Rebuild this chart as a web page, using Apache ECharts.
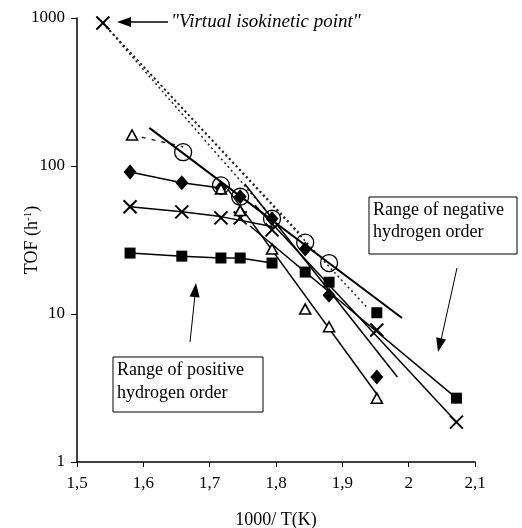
<!DOCTYPE html>
<html>
<head>
<meta charset="utf-8">
<script src="https://cdn.jsdelivr.net/npm/echarts@6/dist/echarts.min.js"></script>
<style>
  html, body { margin: 0; padding: 0; background: #fff; }
  #main { width: 522px; height: 528px; }
</style>
</head>
<body>
<div id="main"></div>
<script>
// data: [1000/T, TOF]
var squareData = [[1.58, 25.8], [1.658, 24.6], [1.717, 23.9], [1.746, 23.9], [1.794, 22.1], [1.844, 19.2], [1.88, 16.4], [1.952, 10.2], [2.072, 2.7]];
var diamondData = [[1.58, 91], [1.658, 77], [1.717, 71], [1.746, 62], [1.794, 44], [1.844, 27.5], [1.88, 13.4], [1.952, 3.75]];
var crossData = [[1.58, 53], [1.658, 49], [1.717, 44.6], [1.746, 44.6], [1.794, 37], [1.952, 7.8], [2.072, 1.86]];
var triangleData = [[1.583, 162], [1.717, 70], [1.746, 50], [1.794, 27.5], [1.844, 10.8], [1.88, 8.2], [1.952, 2.7]];
var circleData = [[1.66, 124], [1.717, 74], [1.746, 62], [1.794, 44], [1.844, 30.4], [1.88, 22.1]];
var isoPoint = [[1.539, 925]];

// low temperature lines
var squareLow = [[1.58, 25.8], [1.658, 24.6], [1.717, 23.9], [1.746, 23.9], [1.794, 22.1]];
var diamondLow = [[1.58, 91], [1.658, 77], [1.717, 71]];
var crossLow = [[1.58, 53], [1.658, 49], [1.717, 45.5], [1.794, 39]];

// high temperature fits
var circleFit = [[1.609, 181], [1.99, 9.4]];
var triangleFit = [[1.728, 69], [1.954, 2.79]];
var diamondFit = [[1.753, 75.5], [1.983, 3.75]];
var squareFit = [[1.761, 39.3], [2.072, 2.7]];
var crossFit = [[1.768, 54.5], [2.072, 1.86]];

// extrapolations to the isokinetic point
var isoLine1 = [[1.539, 925], [1.80, 42]];
var isoLine2 = [[1.539, 925], [1.836, 35]];
var isoLine3 = [[1.539, 925], [1.937, 11.1]];
var triDash = [[1.583, 162], [1.66, 135]];

var crossPath = "path://M0,0L10,10M10,0L0,10";
var font = "Liberation Serif";

function solid(data, w) {
  return {
    type: "line", data: data, showSymbol: false, symbol: "none",
    lineStyle: { color: "#000", width: w || 1.5 }, silent: true, z: 2
  };
}
function dotted(data) {
  return {
    type: "line", data: data, showSymbol: false, symbol: "none",
    lineStyle: { color: "#222", width: 1.5, type: [2, 3] }, silent: true, z: 1
  };
}

var myChart = echarts.init(document.getElementById("main"));

var option = {
  animation: false,
  backgroundColor: "#fff",
  textStyle: { fontFamily: font },
  grid: { left: 77, right: 47, top: 18, bottom: 66, containLabel: false, outerBoundsMode: "none" },
  xAxis: {
    type: "value",
    min: 1.5,
    max: 2.1,
    interval: 0.1,
    name: "1000/ T(K)",
    nameLocation: "middle",
    nameGap: 49,
    nameMoveOverlap: false,
    nameTextStyle: { color: "#000", fontSize: 18, fontFamily: font },
    axisLine: { lineStyle: { color: "#000", width: 1.5 } },
    axisTick: { show: true, length: 5, lineStyle: { color: "#000" } },
    axisLabel: {
      color: "#000", fontSize: 17, fontFamily: font, margin: 13,
      formatter: function (v) { return String(Math.round(v * 10) / 10).replace(".", ","); }
    },
    splitLine: { show: false }
  },
  yAxis: {
    type: "log",
    logBase: 10,
    min: 1,
    max: 1000,
    name: "TOF (h{sup|-1})",
    nameLocation: "middle",
    nameGap: 36,
    nameMoveOverlap: false,
    nameTextStyle: {
      color: "#000", fontSize: 18, fontFamily: font,
      rich: { sup: { fontSize: 11, verticalAlign: "top", padding: [0, 0, 7, 0], fontFamily: font, color: "#000" } }
    },
    axisLine: { lineStyle: { color: "#000", width: 1.5 } },
    axisTick: { show: true, length: 6, lineStyle: { color: "#000" } },
    minorTick: { show: false },
    axisLabel: {
      color: "#000", fontSize: 17, fontFamily: font, margin: 12,
      formatter: function (v) { return String(Math.round(v)); }
    },
    splitLine: { show: false }
  },
  series: [
    dotted(isoLine1),
    dotted(isoLine2),
    dotted(isoLine3),
    Object.assign(dotted(triDash), { lineStyle: { color: "#222", width: 1.5, type: [4, 6] } }),
    solid(squareLow),
    solid(diamondLow),
    solid(crossLow),
    solid(circleFit, 2),
    solid(triangleFit),
    solid(diamondFit),
    solid(squareFit),
    solid(crossFit),
    {
      type: "scatter", data: squareData, symbol: "rect", symbolSize: 11,
      itemStyle: { color: "#000", opacity: 1 }, z: 5
    },
    {
      type: "scatter", data: diamondData, symbol: "diamond", symbolSize: [13, 15],
      itemStyle: { color: "#000", opacity: 1 }, z: 5
    },
    {
      type: "scatter", data: crossData, symbol: crossPath, symbolSize: 13,
      itemStyle: { color: "none", borderColor: "#000", borderWidth: 2, opacity: 1 }, z: 5
    },
    {
      type: "scatter", data: triangleData, symbol: "triangle", symbolSize: [11, 10],
      itemStyle: { color: "#fff", borderColor: "#000", borderWidth: 1.6, opacity: 1 }, z: 6
    },
    {
      type: "scatter", data: circleData, symbol: "circle", symbolSize: 17,
      itemStyle: { color: "none", borderColor: "#000", borderWidth: 1.3, opacity: 1 }, z: 7
    },
    {
      type: "scatter", data: isoPoint, symbol: crossPath, symbolSize: 13,
      itemStyle: { color: "none", borderColor: "#000", borderWidth: 2, opacity: 1 }, z: 5
    }
  ],
  graphic: [
    // isokinetic point label
    { type: "line", shape: { x1: 168, y1: 22, x2: 128, y2: 22 }, style: { stroke: "#000", lineWidth: 1.5 } },
    { type: "polygon", shape: { points: [[117, 22], [131, 17], [131, 27]] }, style: { fill: "#000" } },
    {
      type: "text", left: 171, top: 12,
      style: { text: "\"Virtual isokinetic point\"", font: "italic 19px 'Liberation Serif'", fill: "#000" }
    },
    // negative order box
    { type: "rect", shape: { x: 369, y: 197, width: 148, height: 57 }, style: { fill: "#fff", stroke: "#000", lineWidth: 1 } },
    { type: "text", left: 373, top: 201, style: { text: "Range of negative", font: "18px 'Liberation Serif'", fill: "#000" } },
    { type: "text", left: 373, top: 223, style: { text: "hydrogen order", font: "18px 'Liberation Serif'", fill: "#000" } },
    { type: "line", shape: { x1: 457, y1: 268, x2: 441, y2: 340 }, style: { stroke: "#000", lineWidth: 1 } },
    { type: "polygon", shape: { points: [[438, 352], [446, 339.5], [436.2, 337.3]] }, style: { fill: "#000" } },
    // positive order box
    { type: "rect", shape: { x: 113, y: 357, width: 150, height: 55 }, style: { fill: "#fff", stroke: "#000", lineWidth: 1 } },
    { type: "text", left: 117, top: 361, style: { text: "Range of positive", font: "18px 'Liberation Serif'", fill: "#000" } },
    { type: "text", left: 117, top: 384, style: { text: "hydrogen order", font: "18px 'Liberation Serif'", fill: "#000" } },
    { type: "line", shape: { x1: 190, y1: 342, x2: 195, y2: 295 }, style: { stroke: "#000", lineWidth: 1 } },
    { type: "polygon", shape: { points: [[196, 283], [199.6, 297.4], [189.6, 296.4]] }, style: { fill: "#000" } }
  ]
};

myChart.setOption(option);
</script>
</body>
</html>
